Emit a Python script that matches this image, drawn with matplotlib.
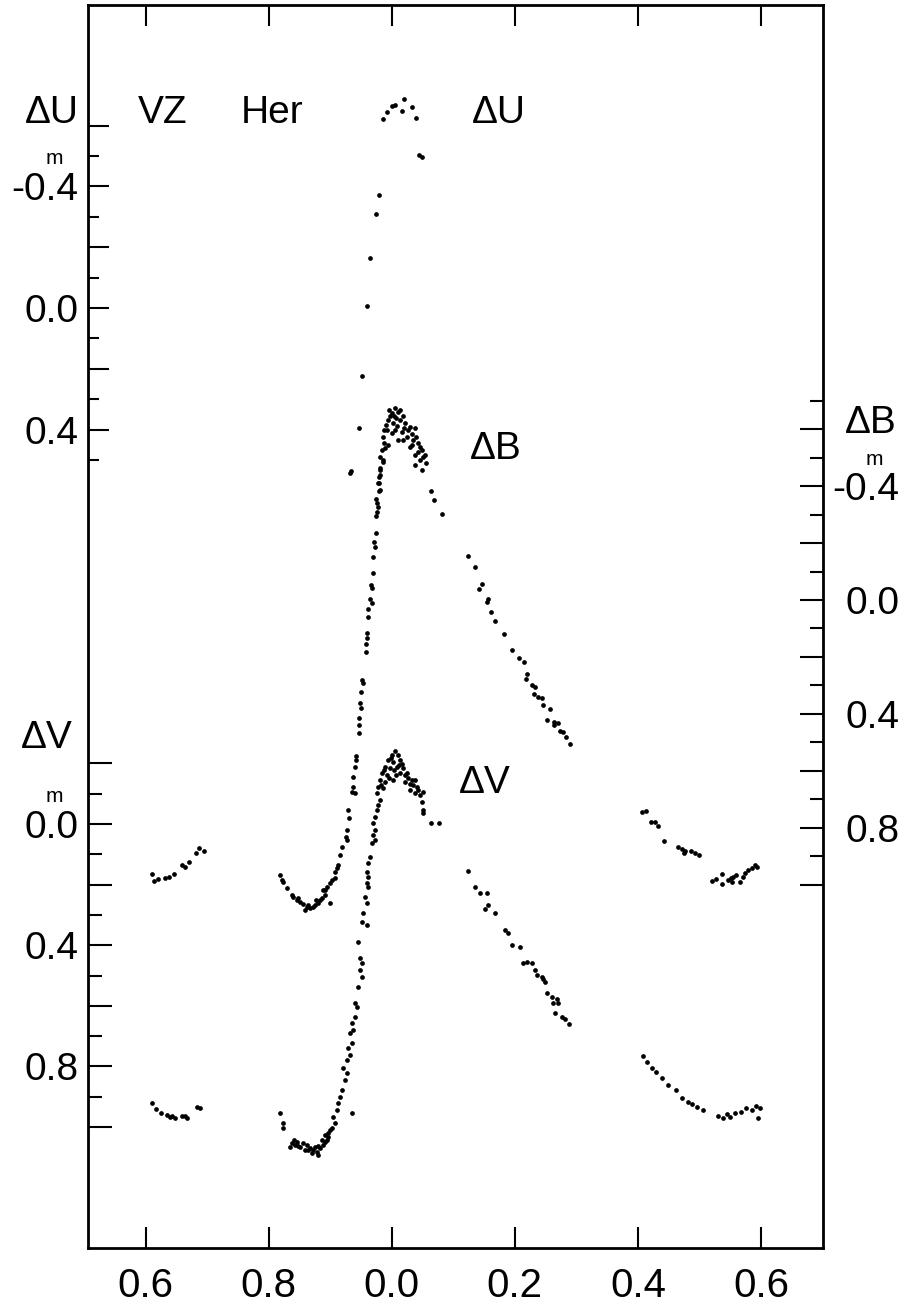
import matplotlib
matplotlib.use("Agg")
import matplotlib.pyplot as plt
import numpy as np

plt.rcParams['font.family'] = ['Liberation Sans Narrow', 'Liberation Sans', 'DejaVu Sans']

# ---------------- data (phase continuous: 0.6->-0.4, 0.8->-0.2) ----------------
x_ticks = [-0.4, -0.2, 0.0, 0.2, 0.4, 0.6]
x_ticklabels = ['0.6', '0.8', '0.0', '0.2', '0.4', '0.6']

U_phase = [-0.015, -0.008, 0.000, 0.005, 0.016, 0.020, 0.033, 0.039, 0.044, 0.049,
           -0.021, -0.026, -0.036, -0.041, -0.049, -0.054, -0.068, -0.067]
U_mag = [-0.622, -0.645, -0.664, -0.668, -0.648, -0.688, -0.661, -0.625, -0.503, -0.497,
         -0.372, -0.309, -0.164, -0.007, 0.224, 0.395, 0.543, 0.536]

B_phase = [
    # maximum
    0.005, 0.000, 0.010, -0.007, 0.002, 0.013, 0.021, 0.029, 0.037, -0.008, -0.015, 0.016,
    0.024, 0.034, 0.042, 0.029, 0.049, 0.037, 0.050, 0.046, -0.011, -0.020, -0.015, -0.020,
    -0.020, -0.021, -0.021, -0.003, 0.007, 0.018, -0.010, 0.008, 0.026, 0.000, 0.033, 0.039,
    0.010, 0.046, 0.055, -0.013,
    -0.005, 0.013, 0.003, -0.013, 0.005, 0.020, 0.033, 0.042, 0.054, -0.016, -0.007, 0.018, 0.037,
    # descending branch
    0.049, 0.063, 0.068, 0.081, 0.124, 0.135, 0.146, 0.141, 0.156, 0.154, 0.161, 0.167,
    0.182, 0.195, 0.207, 0.215, 0.220, 0.218, 0.228, 0.233, 0.231, 0.237, 0.244, 0.246,
    0.257, 0.252, 0.263, 0.270, 0.263, 0.273, 0.278, 0.283, 0.289,
    # ascending branch and minimum
    -0.015, -0.020, -0.021, -0.023, -0.020, -0.026, -0.024, -0.023, -0.024, -0.026, -0.026,
    -0.029, -0.028, -0.031, -0.031, -0.034, -0.033, -0.036, -0.033, -0.039, -0.039, -0.041,
    -0.041, -0.042, -0.042, -0.049, -0.047, -0.050, -0.052, -0.050, -0.054, -0.054, -0.054,
    -0.059, -0.059, -0.060, -0.063, -0.063, -0.065, -0.060, -0.072, -0.070, -0.073, -0.075,
    -0.073, -0.081, -0.085, -0.088, -0.089, -0.093, -0.098, -0.101, -0.106, -0.112, -0.109,
    -0.114, -0.120, -0.128, -0.133, -0.138, -0.145, -0.150, -0.101, -0.161, -0.163, -0.171,
    -0.177, -0.182, -0.179, -0.125, -0.117, -0.141, -0.154,
    -0.137, -0.124, -0.109, -0.093, -0.153,
    # phases 0.6-0.7
    -0.390, -0.387, -0.380, -0.369, -0.363, -0.354, -0.341, -0.337, -0.330, -0.319, -0.314, -0.306,
    # phases 0.4-0.6
    0.407, 0.413, 0.421, 0.428, 0.433, 0.442, 0.465, 0.472, 0.476, 0.475, 0.486, 0.493, 0.499,
    0.520, 0.527, 0.537, 0.537, 0.546, 0.551, 0.554, 0.559, 0.553, 0.566, 0.571, 0.574, 0.579,
    0.585, 0.590, 0.593,
]
B_mag = [
    -0.674, -0.656, -0.660, -0.632, -0.621, -0.632, -0.621, -0.607, -0.604, -0.596, -0.572, -0.589,
    -0.572, -0.561, -0.551, -0.537, -0.526, -0.509, -0.502, -0.491, -0.533, -0.502, -0.484, -0.463,
    -0.439, -0.411, -0.382, -0.646, -0.639, -0.646, -0.614, -0.611, -0.596, -0.586, -0.582, -0.572,
    -0.561, -0.537, -0.481, -0.551,
    -0.667, -0.667, -0.646, -0.596, -0.596, -0.604, -0.544, -0.519, -0.509, -0.526, -0.544, -0.561, -0.474,
    -0.456, -0.382, -0.351, -0.302, -0.154, -0.116, -0.056, -0.039, -0.004, 0.007, 0.042, 0.074,
    0.119, 0.175, 0.204, 0.218, 0.260, 0.277, 0.298, 0.305, 0.330, 0.340, 0.344, 0.368,
    0.382, 0.421, 0.428, 0.432, 0.439, 0.460, 0.463, 0.481, 0.505,
    -0.491, -0.456, -0.432, -0.411, -0.386, -0.354, -0.340, -0.326, -0.309, -0.295, -0.235,
    -0.204, -0.186, -0.151, -0.095, -0.053, -0.042, -0.004, 0.011, 0.032, 0.060, 0.116,
    0.133, 0.154, 0.182, 0.281, 0.291, 0.323, 0.361, 0.379, 0.414, 0.439, 0.467,
    0.547, 0.561, 0.586, 0.621, 0.656, 0.674, 0.677, 0.737, 0.765, 0.807, 0.832,
    0.842, 0.867, 0.895, 0.930, 0.940, 0.954, 0.982, 0.993, 1.007, 1.018, 1.035,
    1.046, 1.063, 1.077, 1.081, 1.077, 1.067, 1.060, 1.063, 1.042, 1.035, 1.011,
    0.989, 0.965, 0.982, 1.070, 1.053, 1.088, 1.053,
    1.070, 1.053, 1.018, 0.975, 1.046,
    0.961, 0.986, 0.979, 0.975, 0.972, 0.961, 0.930, 0.937, 0.919, 0.888, 0.870, 0.881,
    0.744, 0.740, 0.779, 0.779, 0.793, 0.846, 0.867, 0.874, 0.881, 0.888, 0.881, 0.888, 0.895,
    0.986, 0.979, 0.961, 0.996, 0.982, 0.975, 0.972, 0.965, 0.989, 0.989, 0.972, 0.958, 0.947,
    0.940, 0.930, 0.937,
]

V_phase = [
    # maximum
    0.005, 0.000, 0.010, -0.007, 0.002, 0.013, -0.011, -0.003, 0.008, 0.018, -0.016, -0.008,
    0.013, 0.024, -0.020, -0.011, 0.026, 0.033, 0.021, -0.023, -0.015, 0.034, 0.041, -0.024,
    0.042, 0.050, 0.049, 0.050, 0.050, 0.063, 0.076, 0.003, 0.016, -0.005, 0.029, 0.037, 0.007,
    -0.002, 0.011, -0.013, 0.021, 0.037, 0.046, -0.018, 0.029, 0.002,
    # ascending branch and minimum
    -0.020, -0.023, -0.024, -0.028, -0.031, -0.028, -0.031, -0.028, -0.033, -0.036, -0.039,
    -0.041, -0.039, -0.041, -0.039, -0.044, -0.041, -0.047, -0.049, -0.041, -0.055, -0.052,
    -0.049, -0.052, -0.049, -0.055, -0.060, -0.057, -0.060, -0.065, -0.063, -0.068, -0.065,
    -0.072, -0.068, -0.073, -0.080, -0.073, -0.076, -0.081, -0.085, -0.065, -0.088, -0.089,
    -0.096, -0.093, -0.098, -0.104, -0.106, -0.112, -0.117, -0.122, -0.128, -0.133, -0.138,
    -0.145, -0.154, -0.163, -0.166, -0.120, -0.114, -0.104, -0.182, -0.177, -0.177,
    -0.150, -0.141, -0.125, -0.109, -0.158,
    -0.130, -0.120, -0.137, -0.109, -0.101, -0.153, -0.159,
    # descending branch
    0.124, 0.135, 0.143, 0.154, 0.156, 0.151, 0.167, 0.184, 0.189, 0.195, 0.208, 0.213,
    0.220, 0.228, 0.233, 0.236, 0.244, 0.246, 0.249, 0.252, 0.260, 0.268, 0.262, 0.270,
    0.265, 0.276, 0.281, 0.288,
    # phases 0.6-0.7
    -0.390, -0.384, -0.376, -0.366, -0.361, -0.358, -0.353, -0.341, -0.337, -0.333, -0.317, -0.312,
    # phases 0.4-0.6
    0.408, 0.415, 0.423, 0.429, 0.439, 0.449, 0.462, 0.472, 0.481, 0.488, 0.496, 0.506,
    0.530, 0.538, 0.545, 0.550, 0.558, 0.567, 0.576, 0.585, 0.592, 0.595, 0.598,
]
V_mag = [
    -0.241, -0.228, -0.228, -0.211, -0.205, -0.211, -0.188, -0.185, -0.188, -0.185, -0.168, -0.162,
    -0.168, -0.168, -0.145, -0.139, -0.152, -0.145, -0.139, -0.122, -0.119, -0.129, -0.122, -0.102,
    -0.112, -0.106, -0.073, -0.046, -0.036, -0.003, -0.003, -0.178, -0.198, -0.152, -0.132, -0.102,
    -0.162,
    -0.218, -0.195, -0.178, -0.162, -0.145, -0.096, -0.129, -0.112, -0.145,
    -0.079, -0.063, -0.046, -0.023, -0.003, 0.020, 0.036, 0.053, 0.063, 0.109, 0.129,
    0.158, 0.175, 0.195, 0.208, 0.241, 0.261, 0.294, 0.323, 0.333, 0.389, 0.442,
    0.459, 0.482, 0.505, 0.538, 0.591, 0.604, 0.637, 0.657, 0.680, 0.690, 0.723,
    0.739, 0.762, 0.779, 0.805, 0.822, 0.845, 0.878, 0.901, 0.954, 0.921, 0.944,
    0.967, 0.987, 1.003, 1.020, 1.043, 1.059, 1.069, 1.083, 1.076, 1.069, 1.059,
    1.053, 1.050, 1.053, 1.066, 1.092, 1.043, 1.033, 0.954, 0.987, 1.003,
    1.066, 1.076, 1.066, 1.050, 1.059,
    1.086, 1.063, 1.076, 1.026, 1.010, 1.063, 1.043,
    0.155, 0.208, 0.228, 0.228, 0.267, 0.281, 0.294, 0.350, 0.360, 0.399, 0.406, 0.459,
    0.455, 0.459, 0.482, 0.498, 0.505, 0.512, 0.521, 0.558, 0.571, 0.578, 0.591, 0.591,
    0.624, 0.637, 0.644, 0.660,
    0.921, 0.941, 0.954, 0.960, 0.967, 0.964, 0.970, 0.964, 0.964, 0.970, 0.934, 0.937,
    0.766, 0.785, 0.805, 0.818, 0.838, 0.861, 0.878, 0.904, 0.917, 0.924, 0.934, 0.944,
    0.964, 0.970, 0.957, 0.967, 0.954, 0.950, 0.937, 0.944, 0.931, 0.970, 0.937,
]

U_major = [-0.6, -0.4, -0.2, 0.0, 0.2, 0.4]
U_minor = [-0.5, -0.3, -0.1, 0.1, 0.3, 0.5]
U_labels = ['', '-0.4', '', '0.0', '', '0.4']

V_major = [-0.2, 0.0, 0.2, 0.4, 0.6, 0.8, 1.0]
V_minor = [-0.1, 0.1, 0.3, 0.5, 0.7, 0.9]
V_labels = ['', '0.0', '', '0.4', '', '0.8', '']

B_major = [-0.6, -0.4, -0.2, 0.0, 0.2, 0.4, 0.6, 0.8, 1.0]
B_minor = [-0.7, -0.5, -0.3, -0.1, 0.1, 0.3, 0.5, 0.7, 0.9]
B_labels = ['', '-0.4', '', '0.0', '', '0.4', '', '0.8', '']

# ---------------- figure ----------------
W, H = 908, 1314
fig = plt.figure(figsize=(W / 100, H / 100), dpi=100)
L, R, T, Bt = 88, 823, 5, 1248
rect = [L / W, 1 - Bt / H, (R - L) / W, (Bt - T) / H]

FS = 28
ax = fig.add_axes(rect)              # Delta V scale (left, lower part) + phase axis
axu = fig.add_axes(rect, sharex=ax)  # Delta U scale (left, upper part)
axb = fig.add_axes(rect, sharex=ax)  # Delta B scale (right)

for a in (axu, axb):
    a.patch.set_visible(False)
    for s in a.spines.values():
        s.set_visible(False)
    a.tick_params(axis='x', which='both', bottom=False, top=False,
                  labelbottom=False, labeltop=False)

for s in ax.spines.values():
    s.set_linewidth(2.0)

ax.set_xlim(-0.494, 0.701)
ax.set_ylim(1.399, -2.703)
axu.set_ylim(3.092, -0.997)
axb.set_ylim(2.274, -2.088)

# x axis
ax.set_xticks(x_ticks, labels=x_ticklabels)
ax.tick_params(axis='x', which='major', direction='in', top=True, bottom=True,
               length=15, width=1.5, labelsize=FS + 1, pad=14)

# V axis (left)
ax.set_yticks(V_major, labels=V_labels)
ax.set_yticks(V_minor, minor=True)
ax.tick_params(axis='y', which='major', direction='in', left=True, right=False,
               length=17, width=1.5, labelsize=FS, pad=7)
ax.tick_params(axis='y', which='minor', direction='in', left=True, right=False,
               length=10, width=1.5)

# U axis (left)
axu.set_yticks(U_major, labels=U_labels)
axu.set_yticks(U_minor, minor=True)
axu.tick_params(axis='y', which='major', direction='in', left=True, right=False,
                length=15, width=1.5, labelsize=FS, pad=7)
axu.tick_params(axis='y', which='minor', direction='in', left=True, right=False,
                length=8, width=1.5)

# B axis (right)
axb.yaxis.tick_right()
axb.set_yticks(B_major, labels=B_labels)
axb.set_yticks(B_minor, minor=True)
axb.tick_params(axis='y', which='major', direction='in', left=False, right=True,
                labelleft=False, labelright=True,
                length=16.5, width=1.5, labelsize=FS, pad=55)
axb.tick_params(axis='y', which='minor', direction='in', left=False, right=True,
                length=9.5, width=1.5)
plt.setp(axb.get_yticklabels(), ha='right')

# data
mk = dict(marker='o', linestyle='none', color='black', markersize=3.4, markeredgewidth=0)
axu.plot(U_phase, U_mag, **mk)
axb.plot(B_phase, B_mag, **mk)
ax.plot(V_phase, V_mag, **mk)

# annotations
def ftext(x, y, s, size=FS, **kw):
    fig.text(x / W, 1 - y / H, s, fontsize=size, ha='center', va='center', **kw)

ftext(52, 113, '\u0394U')
ftext(163, 113, 'VZ')
ftext(272, 113, 'Her')
ftext(499, 113, '\u0394U')
ftext(496, 449, '\u0394B')
ftext(485, 783, '\u0394V')
ftext(47, 738, '\u0394V')
ftext(871, 423, '\u0394B')
# magnitude superscripts (above the decimal point)
ftext(54, 159, 'm', size=15)
ftext(54, 796, 'm', size=15)
ftext(874, 459, 'm', size=15)

fig.savefig('out.png', dpi=100)
